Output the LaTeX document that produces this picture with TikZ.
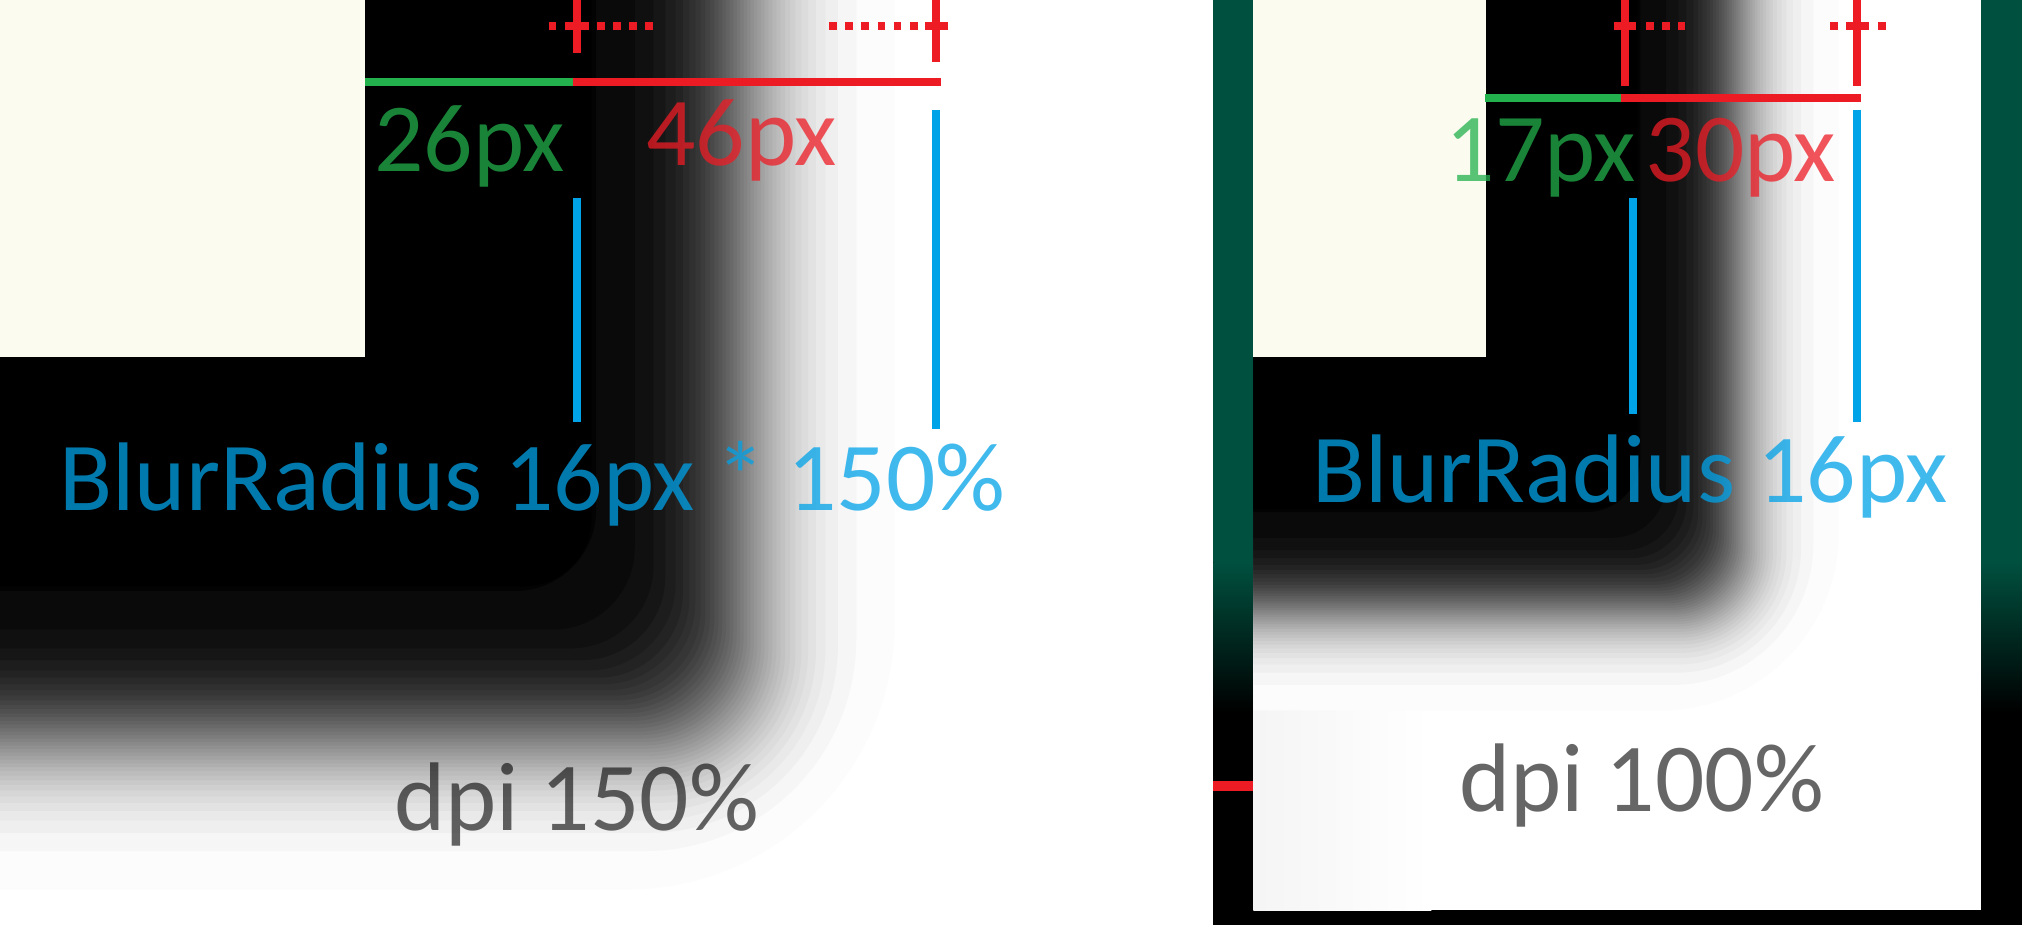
\documentclass[tikz,border=0pt]{standalone}
\usepackage{fontspec}
\setmainfont{Carlito}
\usepackage{tikz}
\usetikzlibrary{calc}
\definecolor{paper}{HTML}{FBFBEF}
\definecolor{mgreen}{HTML}{22B14C}
\definecolor{mred}{HTML}{ED1C24}
\definecolor{mblue}{HTML}{00A2E8}
\definecolor{frame}{HTML}{00503F}

% stacked rounded boxes that fake a blurred shadow edge
\newcommand{\blurbox}[4]{%
  \foreach \k in {1,...,40}{
    \pgfmathsetmacro\v{(\k-0.5)/40}
    \pgfmathsetmacro\sv{sqrt(\v)}
    \pgfmathsetmacro\off{#3*ln((1-\v)/\v)}
    \pgfmathsetmacro\rc{0.01*#3*(ln((1-\v)/\v)-ln((1-\sv)/\sv))/0.293}
    \pgfmathsetmacro\dk{100*(\k-0.5)/40}
    \fill[black!\dk, rounded corners=\rc cm] (#4-400,-400) rectangle (#1+\off,#2+\off);
  }
  \fill[black, rounded corners=#3*0.02 cm] (#4-400,-400) rectangle (#1-#3*4.5,#2-#3*4.5);}

\begin{document}
\begin{tikzpicture}[x=0.01cm, y=-0.01cm,
  lbl/.style={inner sep=0pt, anchor=base, font=\fontsize{21.5}{24}\selectfont, text opacity=0.75},
  bar/.style={line width=0.058cm},
  tick/.style={draw=mred, line width=0.06cm},
  dots/.style={draw=mred, line width=0.062cm, dash pattern=on 0.06cm off 0.065cm},
  block/.style={draw=mred, line width=0.062cm},
  guide/.style={draw=mblue, line width=0.06cm}
]
  \useasboundingbox (0,0) rectangle (1568,717);
  \fill[white] (0,0) rectangle (1568,717);

  % dpi 150% panel
  \begin{scope}
    \clip (0,0) rectangle (941,717);
    \blurbox{578}{574}{26.5}{0}
  \end{scope}
  \fill[paper] (0,0) rectangle (283,277);

  % dpi 100% panel
  \fill[black] (941,0) rectangle (1568,717);
  \fill[frame] (941,0) rectangle (1568,436);
  \shade[top color=frame, bottom color=black] (941,436) rectangle (1568,552);
  \fill[mred] (941,606) rectangle (972,613);
  \fill[white] (972,0) rectangle (1536,706);
  \shade[left color=black!4, right color=white] (972,0) rectangle (1110,706);
  \begin{scope}
    \clip (972,0) rectangle (1536,706);
    \blurbox{1349}{474}{17.6}{972}
  \end{scope}
  \fill[paper] (972,0) rectangle (1152,277);

  % measures, left
  \draw[tick] (447.5,0) -- (447.5,41);
  \draw[dots] (425.5,20) -- (506.5,20);
  \draw[block] (438,20) -- (455.5,20);
  \draw[tick] (726,0) -- (726,48);
  \draw[dots] (643,20) -- (717,20);
  \draw[block] (717.5,20) -- (735,20);
  \draw[bar, mgreen] (283,63.5) -- (444.5,63.5);
  \draw[bar, mred] (444.5,63.5) -- (729.5,63.5);
  \draw[guide] (447.5,153.5) -- (447.5,327);
  \draw[guide] (726,85) -- (726,333);

  % measures, right
  \draw[tick] (1260,0) -- (1260,67);
  \draw[block] (1251.5,20) -- (1269,20);
  \draw[dots] (1276.5,20) -- (1307,20);
  \draw[tick] (1440,0) -- (1440,67);
  \draw[dots] (1419,20) -- (1425,20);
  \draw[block] (1431.5,20) -- (1449,20);
  \draw[dots] (1456.5,20) -- (1462.5,20);
  \draw[bar, mgreen] (1151.5,76) -- (1257,76);
  \draw[bar, mred] (1257,76) -- (1443,76);
  \draw[guide] (1266.5,153.5) -- (1266.5,321);
  \draw[guide] (1440,85) -- (1440,327);

  \node[lbl, text=mgreen] (inL) at (364,133) {26px};
  \node[lbl, text=mred] (outL) at (575,128) {46px};
  \node[lbl, text=mgreen] (inR) at (1195,141) {17px};
  \node[lbl, text=mred] (outR) at (1350,141) {30px};
  \node[lbl, text=mblue] (radL) at (413,395.5) {BlurRadius 16px * 150\%};
  \node[lbl, text=mblue] (radR) at (1264,389.5) {BlurRadius 16px};
  \node[lbl, text=black, text opacity=0.6] (dpiL) at (447,644) {dpi 150\%};
  \node[lbl, text=black, text opacity=0.6] (dpiR) at (1273,629.5) {dpi 100\%};
\end{tikzpicture}
\end{document}
